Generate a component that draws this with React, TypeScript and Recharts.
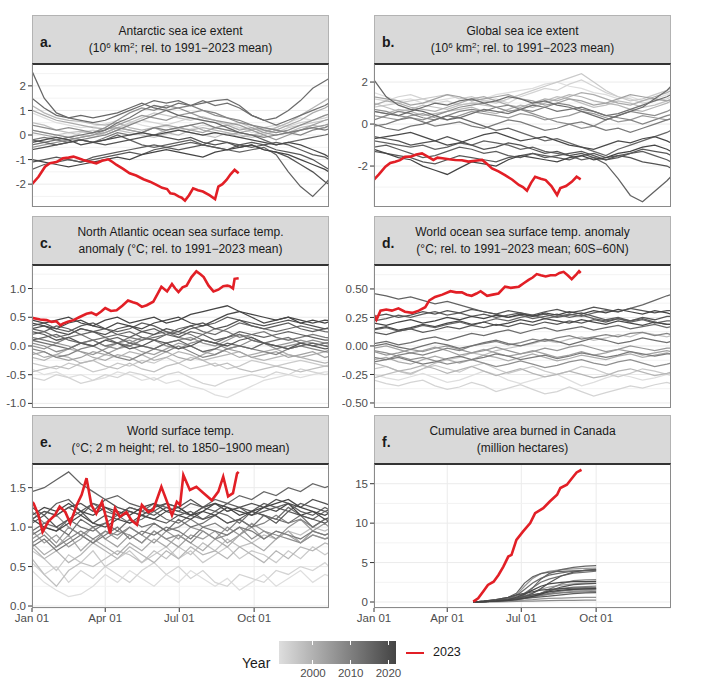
// Climate 2023 small multiples: six facets, grey = previous years, red = 2023.
import { LineChart, Line, XAxis, YAxis, CartesianGrid, ReferenceLine } from "recharts";

// day-of-year sample points for the grey lines
const DAYS = [0, 15, 30, 45, 60, 75, 90, 105, 120, 135, 150, 165, 180, 195, 210, 225, 240, 255, 270, 285, 300, 315, 330, 345, 360, 365];
const FIRE_DAYS = [122, 135, 150, 165, 175, 185, 195, 205, 215, 230, 245, 260, 273];
const YEARS = [1991, 1993, 1995, 1997, 1999, 2001, 2003, 2005, 2007, 2009, 2011, 2013, 2014, 2015, 2016, 2017, 2018, 2019, 2021, 2022];
const FIRE_YEARS = [2003, 2004, 2005, 2006, 2007, 2008, 2009, 2010, 2011, 2012, 2013, 2014, 2015, 2016, 2017, 2018, 2019, 2020, 2021, 2022];
const MONTH_TICKS = [0, 90, 181, 273];
const MONTH_LABELS = ["Jan 01", "Apr 01", "Jul 01", "Oct 01"];

// a. Antarctic sea ice (hundredths of 10^6 km2)
const ANTARCTIC = [
  [90, 70, 50, 40, 30, 35, 45, 60, 55, 40, 30, 35, 20, 25, 40, 30, 20, 30, 10, 20, 30, 50, 70, 60, 80, 85],
  [20, 10, 0, -10, 10, 20, 10, 30, 45, 60, 50, 40, 55, 70, 60, 50, 45, 30, 20, 30, 40, 35, 50, 60, 70, 75],
  [-30, -20, 0, 10, 0, -10, 10, 30, 50, 70, 90, 80, 70, 60, 75, 60, 40, 50, 30, 20, 10, 30, 40, 50, 60, 65],
  [50, 40, 20, 10, 15, 5, 0, 20, 10, 0, -10, 5, 20, 10, 0, -10, 10, 0, -10, 0, 20, 10, 30, 40, 30, 35],
  [120, 90, 70, 60, 55, 45, 40, 50, 30, 20, 30, 10, 0, 20, 30, 20, 10, -10, 0, 10, 30, 50, 80, 110, 140, 150],
  [100, 80, 60, 50, 40, 30, 25, 30, 20, 10, 0, 20, 30, 40, 20, 10, 0, 10, 20, 30, 20, 40, 60, 90, 110, 120],
  [10, 0, -10, -20, -10, 0, 10, 30, 20, 10, 30, 40, 30, 20, 10, 30, 40, 20, 30, 10, 0, 10, 20, 40, 60, 65],
  [-50, -40, -30, -20, -10, 0, 20, 40, 60, 80, 70, 60, 80, 90, 70, 60, 50, 40, 20, 0, -20, 0, 20, 30, 40, 45],
  [40, 30, 20, 30, 20, 10, 30, 60, 90, 110, 100, 120, 110, 90, 100, 80, 70, 50, 40, 20, 10, 20, 40, 60, 80, 85],
  [20, 10, 0, -10, -20, -10, 0, 20, 40, 60, 80, 100, 110, 120, 100, 90, 70, 60, 40, 30, 20, 10, 0, 20, 30, 40],
  [-20, -10, -20, -30, -20, -30, -10, 10, 0, 10, 30, 20, 30, 40, 50, 30, 20, 10, 0, -10, 0, 10, 20, 30, 20, 25],
  [-40, -30, -20, -10, 0, 10, 20, 50, 70, 100, 120, 110, 130, 120, 140, 120, 130, 110, 80, 60, 40, 60, 80, 100, 120, 130],
  [150, 110, 80, 70, 60, 50, 60, 80, 100, 120, 140, 130, 140, 120, 130, 140, 145, 120, 80, 60, 70, 100, 140, 190, 220, 230],
  [260, 150, 90, 70, 80, 70, 80, 90, 110, 130, 110, 100, 80, 70, 60, 50, 30, 10, 0, -20, -40, -30, -20, -10, 0, 5],
  [-20, -30, -40, -30, -20, -30, -20, 0, -20, -40, -50, -40, -30, -20, -40, -50, -60, -70, -60, -50, -80, -150, -210, -250, -200, -180],
  [-140, -120, -110, -100, -110, -90, -80, -70, -60, -50, -40, -50, -40, -30, -40, -20, -30, -40, -50, -40, -30, -40, -60, -80, -90, -100],
  [-110, -100, -90, -100, -110, -100, -90, -80, -70, -80, -60, -50, -60, -50, -40, -50, -60, -40, -30, -40, -60, -70, -80, -100, -130, -140],
  [-60, -50, -40, -30, -20, -30, -40, -30, -20, -10, 0, -10, -20, -10, -30, -40, -30, -50, -40, -60, -70, -90, -120, -150, -190, -200],
  [-30, -20, -10, -20, -40, -30, -20, -10, 0, 10, 0, 10, 20, 10, 0, 10, 0, -10, -20, -30, -40, -30, -40, -60, -80, -90],
  [-100, -110, -120, -130, -120, -110, -100, -90, -100, -80, -70, -60, -70, -80, -90, -70, -60, -50, -40, -60, -70, -80, -100, -120, -140, -150],
];
const ANTARCTIC_2023 = [[0, -2.0], [8, -1.7], [16, -1.29], [22, -1.15], [30, -1.1], [38, -0.95], [45, -0.92], [51, -0.88], [57, -0.95], [63, -1.02], [70, -1.08], [79, -1.15], [86, -1.05], [94, -0.99], [99, -1.1], [104, -1.22], [112, -1.38], [120, -1.56], [128, -1.65], [137, -1.8], [145, -1.9], [153, -2.03], [160, -2.15], [166, -2.2], [170, -2.37], [175, -2.4], [180, -2.5], [184, -2.55], [188, -2.67], [193, -2.45], [198, -2.17], [204, -2.25], [210, -2.3], [218, -2.45], [225, -2.61], [229, -2.1], [234, -2.0], [239, -1.83], [244, -1.6], [249, -1.42], [254, -1.56]];

// b. Global sea ice
const GLOBAL_ICE = [
  [150, 130, 110, 120, 100, 110, 120, 130, 110, 120, 140, 150, 160, 170, 190, 200, 180, 170, 150, 140, 120, 130, 110, 120, 140, 150],
  [120, 110, 130, 140, 120, 100, 110, 90, 100, 110, 120, 100, 130, 150, 170, 160, 190, 210, 180, 150, 130, 120, 100, 110, 120, 130],
  [80, 90, 100, 110, 120, 130, 140, 120, 130, 110, 100, 120, 140, 160, 180, 200, 220, 240, 200, 160, 130, 110, 120, 140, 160, 170],
  [100, 80, 60, 70, 90, 80, 70, 90, 100, 90, 80, 60, 70, 90, 110, 130, 120, 100, 80, 90, 110, 100, 80, 90, 110, 120],
  [60, 50, 70, 60, 40, 50, 60, 70, 80, 60, 50, 70, 90, 80, 100, 120, 140, 130, 110, 100, 90, 70, 60, 80, 100, 110],
  [90, 110, 100, 80, 70, 60, 80, 100, 120, 130, 110, 90, 80, 100, 120, 110, 130, 150, 140, 120, 100, 90, 110, 130, 150, 160],
  [130, 120, 110, 90, 100, 120, 140, 130, 110, 120, 130, 140, 120, 110, 90, 100, 120, 110, 90, 100, 120, 140, 130, 120, 110, 115],
  [40, 30, 20, 40, 50, 30, 20, 40, 60, 50, 40, 30, 50, 40, 20, 30, 40, 60, 50, 30, 10, 20, 40, 30, 20, 25],
  [70, 60, 40, 30, 20, 40, 60, 80, 90, 100, 80, 60, 70, 50, 30, 10, 0, -20, -10, 20, 40, 60, 50, 40, 60, 70],
  [20, 40, 60, 50, 30, 20, 40, 60, 70, 60, 80, 90, 70, 60, 80, 100, 90, 70, 60, 40, 30, 20, 0, 20, 40, 45],
  [-10, 0, 20, 30, 10, -10, 0, 10, -10, -20, 0, 20, 10, -10, -30, -20, 0, 10, -10, -30, -20, -40, -20, 0, 20, 25],
  [0, -20, -30, -10, 0, 20, 40, 30, 50, 70, 60, 50, 70, 90, 80, 60, 70, 80, 60, 40, 50, 70, 90, 110, 130, 140],
  [60, 50, 40, 60, 80, 100, 90, 110, 120, 100, 110, 130, 120, 100, 110, 90, 80, 60, 40, 20, 40, 60, 80, 120, 160, 180],
  [210, 130, 90, 70, 60, 40, 20, 30, 10, -10, -30, -20, -40, -60, -80, -70, -90, -110, -130, -150, -120, -100, -80, -60, -40, -30],
  [-80, -90, -100, -110, -100, -120, -110, -90, -100, -80, -90, -100, -120, -110, -130, -140, -150, -170, -160, -190, -260, -340, -370, -320, -270, -250],
  [-110, -100, -120, -140, -160, -150, -130, -110, -120, -140, -130, -150, -160, -140, -150, -160, -170, -150, -140, -160, -150, -140, -130, -150, -170, -180],
  [-130, -140, -150, -160, -180, -190, -170, -150, -160, -170, -180, -160, -150, -140, -160, -150, -140, -130, -150, -170, -160, -140, -120, -130, -140, -150],
  [-60, -70, -80, -100, -90, -80, -60, -80, -100, -120, -110, -90, -100, -120, -140, -130, -150, -140, -160, -170, -150, -160, -180, -190, -200, -210],
  [-70, -60, -50, -40, -60, -80, -100, -90, -70, -50, -40, -60, -80, -70, -60, -80, -100, -110, -120, -100, -80, -90, -70, -60, -80, -90],
  [-120, -140, -160, -170, -200, -220, -240, -210, -180, -190, -200, -170, -150, -160, -170, -180, -160, -150, -170, -160, -140, -130, -110, -100, -120, -130],
];
const GLOBAL_ICE_2023 = [[0, -2.65], [6, -2.4], [14, -2.03], [20, -1.85], [26, -1.79], [32, -1.72], [38, -1.56], [45, -1.55], [52, -1.45], [59, -1.4], [66, -1.55], [73, -1.71], [78, -1.6], [84, -1.63], [92, -1.68], [100, -1.71], [108, -1.72], [116, -1.79], [124, -1.75], [133, -1.71], [139, -1.9], [145, -2.11], [153, -2.25], [161, -2.43], [170, -2.65], [178, -2.9], [183, -3.0], [188, -3.17], [193, -2.8], [198, -2.51], [205, -2.6], [211, -2.67], [218, -2.95], [225, -3.38], [229, -3.05], [236, -2.95], [243, -2.75], [249, -2.51], [254, -2.63]];

// c. North Atlantic SST anomaly (hundredths of °C)
const NATL_SST = [
  [-40, -50, -45, -55, -50, -60, -55, -45, -50, -60, -55, -65, -60, -70, -75, -85, -90, -80, -70, -60, -55, -50, -55, -50, -45, -45],
  [-55, -60, -50, -55, -65, -60, -50, -55, -45, -50, -60, -50, -45, -55, -65, -70, -60, -55, -50, -55, -45, -50, -40, -45, -50, -48],
  [-30, -35, -40, -30, -35, -45, -40, -30, -35, -25, -30, -20, -30, -40, -35, -30, -40, -35, -25, -30, -35, -30, -25, -30, -35, -33],
  [-45, -40, -35, -40, -30, -25, -35, -40, -30, -40, -45, -35, -30, -20, -25, -35, -30, -40, -45, -40, -35, -40, -45, -40, -35, -36],
  [-20, -25, -15, -20, -30, -25, -15, -20, -10, -15, -25, -20, -10, -15, -25, -20, -15, -10, -20, -25, -20, -15, -20, -25, -30, -28],
  [-10, -20, -15, -5, -10, -20, -25, -15, -20, -30, -20, -10, -20, -25, -15, -5, -10, -20, -15, -10, -5, -15, -20, -15, -10, -12],
  [-15, -10, -20, -25, -20, -10, -15, -5, 0, -10, -15, -5, 5, 0, -10, -15, -5, -10, -20, -15, -10, -20, -15, -10, -20, -18],
  [0, -5, 5, 0, -10, -15, -5, 5, 10, 0, -5, 5, 10, 15, 5, 0, 10, 20, 15, 5, 0, 5, 10, 5, 0, 2],
  [5, 0, -10, -5, 5, 10, 0, -5, 5, 15, 10, 0, -5, 5, 10, 5, -5, 0, 10, 5, -5, 0, 5, 10, 5, 5],
  [-5, -10, -20, -15, -5, 0, -10, -20, -25, -15, -5, -10, 0, -10, -20, -15, -5, 0, -5, -10, -15, -5, 0, -5, -10, -8],
  [15, 10, 5, 15, 20, 10, 0, 5, 15, 10, 20, 25, 15, 10, 20, 30, 25, 15, 20, 25, 15, 10, 15, 20, 15, 14],
  [10, 5, 0, -5, 5, 10, 15, 5, 0, 10, 15, 20, 25, 20, 10, 5, 15, 20, 10, 5, 10, 15, 5, 0, 5, 6],
  [20, 25, 15, 20, 30, 25, 15, 20, 25, 15, 10, 20, 30, 35, 25, 20, 30, 40, 35, 30, 25, 30, 35, 30, 25, 24],
  [10, 15, 20, 10, 5, 0, 10, 15, 5, 0, -5, 5, 10, 0, -10, -5, 5, 0, -5, 5, 0, -5, 0, 5, 0, -2],
  [30, 25, 35, 30, 20, 25, 30, 20, 15, 25, 30, 20, 15, 25, 20, 10, 15, 25, 20, 15, 20, 25, 20, 15, 10, 10],
  [35, 40, 30, 25, 35, 40, 30, 25, 30, 40, 35, 25, 20, 30, 35, 40, 50, 45, 35, 30, 35, 40, 30, 25, 30, 30],
  [25, 20, 10, 15, 5, 0, 10, 5, -5, 0, 10, 5, -5, 0, 10, 5, 0, 10, 15, 5, 0, -5, 5, 0, -5, -4],
  [30, 35, 25, 20, 30, 25, 20, 30, 35, 25, 20, 30, 25, 35, 40, 30, 35, 45, 40, 35, 40, 45, 40, 35, 30, 32],
  [40, 35, 30, 40, 45, 35, 30, 40, 35, 30, 40, 45, 50, 40, 35, 45, 55, 60, 50, 40, 45, 50, 45, 40, 45, 44],
  [45, 40, 45, 50, 40, 35, 45, 50, 40, 45, 50, 40, 45, 55, 60, 65, 70, 60, 55, 50, 45, 50, 40, 45, 40, 42],
];
const NATL_SST_2023 = [[0, 0.49], [10, 0.46], [18, 0.45], [24, 0.42], [30, 0.43], [35, 0.36], [38, 0.39], [44, 0.42], [51, 0.45], [58, 0.5], [67, 0.56], [73, 0.58], [79, 0.54], [85, 0.6], [90, 0.66], [97, 0.61], [104, 0.62], [111, 0.7], [118, 0.79], [124, 0.76], [129, 0.74], [135, 0.68], [141, 0.71], [149, 0.77], [154, 0.9], [159, 1.03], [166, 0.95], [172, 1.08], [176, 1.0], [180, 0.94], [185, 1.02], [190, 1.05], [196, 1.2], [202, 1.3], [207, 1.25], [211, 1.2], [217, 1.05], [223, 0.95], [229, 0.98], [235, 1.04], [240, 1.05], [243, 1.04], [247, 1.0], [249, 1.17], [254, 1.18]];

// d. World ocean SST anomaly 60S-60N (hundredths of °C)
const WORLD_SST = [
  [-25, -28, -30, -27, -24, -28, -32, -30, -26, -22, -25, -30, -33, -30, -27, -25, -30, -35, -32, -28, -25, -27, -30, -28, -25, -26],
  [-30, -33, -35, -32, -30, -35, -38, -36, -32, -35, -40, -37, -34, -38, -42, -40, -36, -40, -44, -41, -38, -35, -37, -34, -32, -33],
  [-20, -18, -22, -25, -20, -17, -20, -23, -18, -15, -20, -24, -21, -18, -22, -25, -22, -18, -20, -24, -27, -24, -20, -22, -25, -24],
  [-28, -25, -22, -24, -20, -15, -12, -10, -6, -8, -4, -2, 0, 2, 5, 3, 6, 8, 5, 7, 10, 8, 12, 10, 8, 9],
  [-15, -18, -22, -20, -17, -20, -24, -21, -18, -22, -26, -23, -20, -24, -27, -25, -22, -25, -28, -26, -22, -20, -23, -26, -24, -23],
  [-12, -10, -14, -16, -12, -9, -12, -15, -12, -8, -10, -13, -10, -7, -10, -13, -11, -8, -10, -12, -9, -7, -10, -8, -6, -7],
  [-2, 0, -3, -6, -4, -1, -4, -8, -6, -3, -6, -9, -7, -4, -7, -10, -8, -5, -8, -6, -3, -5, -8, -6, -4, -5],
  [-5, -8, -6, -3, -5, -2, 0, -3, -6, -4, -1, -4, -7, -5, -2, -4, -1, 1, -2, -5, -3, 0, -2, -4, -2, -2],
  [-4, -6, -9, -12, -10, -13, -16, -14, -12, -15, -18, -16, -13, -16, -19, -17, -14, -12, -15, -17, -14, -12, -15, -18, -16, -15],
  [-10, -12, -8, -6, -8, -5, -2, -4, 0, 2, 4, 1, 3, 6, 4, 7, 9, 6, 8, 10, 8, 11, 12, 9, 11, 10],
  [-14, -12, -10, -13, -16, -14, -11, -9, -12, -10, -7, -9, -12, -10, -8, -11, -9, -6, -8, -10, -8, -5, -7, -9, -7, -7],
  [0, 2, -1, -3, 0, 3, 1, -2, 0, 3, 5, 2, 0, 3, 6, 4, 1, 4, 7, 5, 2, 4, 7, 5, 3, 4],
  [2, 4, 1, 3, 6, 8, 5, 8, 11, 9, 12, 14, 11, 14, 16, 13, 15, 17, 14, 16, 18, 15, 17, 19, 16, 17],
  [14, 16, 13, 15, 18, 16, 19, 21, 18, 21, 24, 22, 25, 27, 24, 26, 28, 26, 29, 31, 30, 33, 36, 40, 44, 45],
  [46, 44, 41, 43, 40, 37, 39, 36, 33, 30, 28, 25, 27, 24, 26, 28, 25, 27, 24, 22, 24, 21, 23, 20, 22, 22],
  [22, 24, 27, 25, 28, 30, 27, 29, 26, 28, 25, 27, 29, 26, 28, 25, 27, 29, 26, 23, 25, 22, 24, 21, 19, 19],
  [12, 10, 13, 15, 12, 14, 17, 15, 18, 16, 19, 17, 20, 18, 21, 19, 22, 20, 23, 21, 24, 22, 25, 23, 26, 26],
  [26, 28, 25, 27, 30, 28, 31, 29, 32, 30, 28, 31, 29, 27, 30, 32, 29, 31, 34, 32, 30, 33, 31, 29, 31, 31],
  [15, 17, 14, 16, 19, 17, 20, 22, 19, 21, 18, 20, 23, 21, 24, 22, 20, 23, 21, 19, 22, 20, 18, 21, 19, 19],
  [20, 18, 21, 23, 20, 22, 25, 23, 26, 24, 27, 25, 28, 26, 29, 27, 30, 28, 31, 29, 32, 30, 28, 31, 29, 28],
];
const WORLD_SST_2023 = [[0, 0.27], [3, 0.23], [8, 0.31], [15, 0.32], [22, 0.31], [30, 0.33], [38, 0.3], [47, 0.29], [55, 0.31], [63, 0.34], [68, 0.4], [75, 0.43], [84, 0.45], [94, 0.48], [101, 0.47], [108, 0.47], [114, 0.45], [120, 0.44], [126, 0.46], [131, 0.48], [139, 0.44], [146, 0.45], [153, 0.46], [161, 0.52], [168, 0.51], [178, 0.52], [184, 0.55], [190, 0.58], [195, 0.6], [200, 0.63], [205, 0.62], [211, 0.61], [217, 0.62], [223, 0.62], [228, 0.64], [233, 0.65], [238, 0.62], [243, 0.585], [249, 0.63], [252, 0.655], [254, 0.64]];

// e. World surface air temperature vs 1850-1900 (hundredths of °C)
const SURFACE_T = [
  [45, 30, 20, 12, 15, 25, 40, 30, 45, 35, 25, 40, 30, 45, 35, 25, 35, 20, 30, 40, 25, 35, 45, 30, 40, 38],
  [55, 40, 50, 30, 45, 35, 50, 40, 30, 45, 55, 40, 50, 35, 45, 30, 25, 40, 35, 30, 45, 40, 50, 45, 55, 50],
  [70, 60, 45, 65, 55, 70, 50, 60, 70, 55, 65, 75, 60, 70, 55, 65, 75, 60, 70, 65, 55, 70, 60, 75, 65, 68],
  [60, 40, 25, 45, 55, 50, 60, 70, 65, 55, 70, 60, 75, 65, 80, 70, 85, 75, 80, 90, 85, 95, 90, 100, 95, 98],
  [75, 60, 70, 55, 65, 80, 70, 60, 75, 65, 55, 70, 60, 75, 65, 70, 60, 75, 65, 55, 70, 60, 75, 70, 80, 78],
  [80, 65, 75, 90, 70, 85, 75, 65, 80, 70, 85, 75, 90, 80, 70, 85, 75, 90, 80, 70, 85, 95, 80, 90, 85, 88],
  [95, 80, 90, 75, 85, 100, 85, 75, 90, 80, 95, 85, 75, 90, 85, 95, 80, 90, 100, 85, 95, 90, 80, 95, 90, 92],
  [85, 95, 80, 100, 90, 80, 95, 85, 100, 90, 80, 95, 85, 100, 95, 85, 100, 90, 105, 95, 85, 100, 110, 95, 105, 100],
  [120, 105, 115, 100, 90, 100, 85, 95, 90, 80, 95, 85, 90, 80, 95, 85, 90, 100, 85, 95, 90, 85, 80, 90, 85, 86],
  [80, 90, 75, 85, 95, 85, 95, 90, 100, 90, 105, 95, 100, 110, 100, 105, 95, 110, 100, 105, 115, 105, 110, 100, 110, 108],
  [75, 85, 70, 80, 90, 80, 90, 100, 85, 95, 90, 100, 95, 85, 100, 95, 90, 100, 95, 85, 95, 90, 85, 95, 90, 92],
  [90, 100, 95, 110, 100, 95, 105, 95, 110, 100, 105, 95, 110, 100, 105, 115, 105, 110, 100, 115, 110, 105, 115, 100, 110, 108],
  [95, 105, 100, 90, 110, 100, 105, 115, 105, 110, 120, 110, 105, 115, 110, 120, 115, 105, 120, 115, 110, 125, 115, 110, 120, 118],
  [110, 120, 115, 125, 115, 130, 120, 115, 125, 120, 130, 125, 120, 130, 125, 135, 130, 140, 135, 145, 140, 150, 145, 155, 150, 152],
  [145, 150, 160, 170, 155, 145, 135, 140, 130, 125, 120, 130, 125, 115, 125, 130, 120, 125, 115, 120, 125, 130, 120, 115, 125, 122],
  [125, 115, 130, 135, 120, 130, 125, 115, 125, 120, 115, 125, 120, 115, 125, 120, 130, 125, 120, 130, 125, 120, 130, 125, 120, 122],
  [105, 115, 100, 110, 120, 105, 115, 110, 120, 115, 110, 105, 115, 120, 110, 115, 105, 110, 120, 115, 105, 120, 115, 110, 105, 108],
  [110, 120, 115, 125, 130, 120, 135, 125, 120, 115, 125, 130, 125, 135, 125, 130, 120, 125, 130, 125, 135, 130, 125, 135, 130, 128],
  [110, 100, 95, 105, 115, 105, 100, 110, 105, 115, 110, 120, 115, 110, 120, 115, 125, 120, 115, 125, 120, 130, 115, 120, 110, 112],
  [115, 125, 120, 130, 120, 115, 125, 120, 115, 125, 130, 120, 125, 115, 120, 130, 125, 115, 120, 125, 130, 135, 125, 120, 115, 118],
];
const SURFACE_T_2023 = [[0, 1.32], [2, 1.3], [8, 1.15], [13, 0.94], [20, 1.07], [28, 1.15], [34, 1.26], [41, 1.19], [47, 1.05], [55, 1.28], [61, 1.41], [67, 1.62], [73, 1.28], [79, 1.17], [86, 1.32], [96, 0.92], [102, 1.24], [108, 1.13], [116, 1.19], [122, 1.09], [129, 1.03], [135, 1.28], [143, 1.19], [149, 1.22], [159, 1.51], [166, 1.32], [172, 1.15], [178, 1.32], [182, 1.28], [186, 1.66], [194, 1.47], [202, 1.51], [211, 1.43], [221, 1.34], [229, 1.45], [235, 1.64], [241, 1.39], [247, 1.43], [252, 1.68], [254, 1.7]];

// f. Cumulative area burned in Canada (hundredths of Mha)
const FIRE = [
  [0, 5, 10, 20, 30, 45, 60, 80, 100, 120, 135, 145, 150],
  [0, 5, 15, 30, 50, 80, 120, 160, 190, 215, 230, 238, 240],
  [0, 10, 25, 50, 90, 200, 300, 360, 390, 410, 420, 425, 430],
  [0, 5, 10, 15, 20, 25, 30, 40, 45, 50, 55, 58, 60],
  [0, 5, 10, 20, 35, 60, 90, 110, 125, 140, 150, 155, 160],
  [0, 0, 2, 5, 8, 10, 12, 15, 18, 20, 22, 24, 25],
  [0, 5, 10, 20, 30, 45, 70, 110, 160, 230, 270, 280, 285],
  [0, 5, 15, 25, 40, 60, 80, 110, 140, 170, 190, 195, 200],
  [0, 5, 10, 25, 40, 55, 70, 85, 100, 115, 125, 130, 135],
  [0, 5, 10, 20, 35, 50, 70, 90, 110, 140, 160, 168, 172],
  [0, 10, 20, 40, 70, 110, 180, 250, 290, 330, 365, 380, 390],
  [0, 10, 25, 45, 80, 160, 240, 300, 340, 370, 390, 400, 405],
  [0, 5, 15, 30, 50, 90, 180, 290, 360, 410, 440, 455, 460],
  [0, 10, 30, 60, 110, 240, 320, 360, 380, 390, 395, 398, 400],
  [0, 5, 15, 25, 35, 45, 55, 65, 75, 90, 105, 115, 120],
  [0, 5, 10, 20, 40, 70, 110, 170, 240, 330, 380, 405, 415],
  [0, 5, 15, 30, 50, 70, 90, 110, 140, 190, 220, 230, 235],
  [0, 10, 30, 60, 90, 110, 130, 150, 160, 170, 175, 178, 180],
  [0, 5, 15, 30, 60, 100, 150, 200, 230, 250, 258, 260, 262],
  [0, 5, 10, 20, 30, 50, 70, 100, 130, 150, 160, 165, 170],
];
const FIRE_2023 = [[122, 0.04], [128, 0.47], [134, 1.31], [140, 2.16], [147, 2.58], [153, 3.43], [159, 4.49], [165, 5.76], [169, 5.97], [175, 7.88], [183, 8.93], [192, 10.0], [198, 11.27], [208, 11.9], [216, 12.74], [225, 13.6], [229, 14.45], [237, 14.87], [245, 15.92], [249, 16.43], [255, 16.77]];

const RED = "#e21f26";
const COL_X = [32, 374];
const PLOT_W = 297;
const ROWS = [
  { strip: 15, plot: 64, h: 143 },
  { strip: 216, plot: 265, h: 143 },
  { strip: 415, plot: 464, h: 144 },
];
const STRIP_H = 49;
const YW = 32;
const XH = 22;
const FONT = '"Liberation Sans", Arial, Helvetica, sans-serif';

const greyFor = (year: number) => {
  const t = Math.min(1, Math.max(0, (year - 1991) / 31));
  const v = Math.round(222 - t * (222 - 68));
  return `rgb(${v},${v},${v})`;
};

function buildRows(days: number[], lines: number[][], red: number[][]) {
  const m = new Map<number, any>();
  const row = (d: number) => {
    if (!m.has(d)) m.set(d, { x: d });
    return m.get(d);
  };
  lines.forEach((vals, i) => vals.forEach((v, j) => { row(days[j])["g" + i] = v / 100; }));
  red.forEach(([d, v]) => { row(d).r = v; });
  return [...m.values()].sort((a, b) => a.x - b.x);
}

const sup = (s: string) => <span style={{ fontSize: 8, position: "relative", top: -4 }}>{s}</span>;
const iceUnits = <>(10{sup("6")} km{sup("2")}; rel. to 1991−2023 mean)</>;

const PANELS = [
  { letter: "a.", col: 0, row: 0, t1: "Antarctic sea ice extent", t2: iceUnits, days: DAYS, lines: ANTARCTIC, years: YEARS, red: ANTARCTIC_2023,
    domain: [-2.93, 2.89], ticks: [-2, -1, 0, 1, 2], minor: [-2.5, -1.5, -0.5, 0.5, 1.5, 2.5], fmt: (v: number) => String(v) },
  { letter: "b.", col: 1, row: 0, t1: "Global sea ice extent", t2: iceUnits, days: DAYS, lines: GLOBAL_ICE, years: YEARS, red: GLOBAL_ICE_2023,
    domain: [-3.95, 2.86], ticks: [-2, 0, 2], minor: [-3, -1, 1], fmt: (v: number) => String(v) },
  { letter: "c.", col: 0, row: 1, t1: "North Atlantic ocean sea surface temp.", t2: "anomaly (°C; rel. to 1991−2023 mean)", days: DAYS, lines: NATL_SST, years: YEARS, red: NATL_SST_2023,
    domain: [-1.08, 1.41], ticks: [-1, -0.5, 0, 0.5, 1], minor: [-0.75, -0.25, 0.25, 0.75, 1.25], fmt: (v: number) => v.toFixed(1) },
  { letter: "d.", col: 1, row: 1, t1: "World ocean sea surface temp. anomaly", t2: "(°C; rel. to 1991−2023 mean; 60S−60N)", days: DAYS, lines: WORLD_SST, years: YEARS, red: WORLD_SST_2023,
    domain: [-0.544, 0.71], ticks: [-0.5, -0.25, 0, 0.25, 0.5], minor: [-0.375, -0.125, 0.125, 0.375, 0.625], fmt: (v: number) => v.toFixed(2) },
  { letter: "e.", col: 0, row: 2, t1: "World surface temp.", t2: "(°C; 2 m height; rel. to 1850−1900 mean)", days: DAYS, lines: SURFACE_T, years: YEARS, red: SURFACE_T_2023,
    domain: [-0.025, 1.8], ticks: [0, 0.5, 1, 1.5], minor: [0.25, 0.75, 1.25, 1.75], fmt: (v: number) => v.toFixed(1) },
  { letter: "f.", col: 1, row: 2, t1: "Cumulative area burned in Canada", t2: "(million hectares)", days: FIRE_DAYS, lines: FIRE, years: FIRE_YEARS, red: FIRE_2023,
    domain: [-0.76, 17.5], ticks: [0, 5, 10, 15], minor: [2.5, 7.5, 12.5], fmt: (v: number) => String(v) },
];

function Panel({ p }: { p: any }) {
  const left = COL_X[p.col];
  const r = ROWS[p.row];
  const bottom = p.row === 2;
  const data = buildRows(p.days, p.lines, p.red);
  return (
    <>
      <div style={{ position: "absolute", left, top: r.strip, width: PLOT_W, height: STRIP_H, background: "#d9d9d9",
        border: "1px solid #b3b3b3", boxSizing: "border-box", color: "#1a1a1a" }}>
        <div style={{ position: "absolute", left: 7, top: 18, fontSize: 14, fontWeight: 700, lineHeight: "16px" }}>{p.letter}</div>
        <div style={{ position: "absolute", left: 0, right: 0, top: 7, textAlign: "center", fontSize: 12, lineHeight: "17px", whiteSpace: "nowrap" }}>
          {p.t1}<br />{p.t2}
        </div>
      </div>
      <div style={{ position: "absolute", left: left - YW, top: r.plot }}>
        <LineChart width={YW + PLOT_W} height={r.h + (bottom ? XH : 0)} data={data} margin={{ top: 0, right: 0, bottom: 0, left: 0 }}>
          <CartesianGrid stroke="#ebebeb" strokeWidth={1} />
          <XAxis dataKey="x" type="number" domain={[0, 365]} allowDataOverflow ticks={MONTH_TICKS} height={bottom ? XH : 0}
            interval={0} axisLine={false} tick={bottom ? { fill: "#4d4d4d", fontSize: 11.5, fontFamily: FONT } : false}
            tickLine={bottom ? { stroke: "#333" } : false} tickSize={4} tickMargin={2}
            tickFormatter={(v: number) => MONTH_LABELS[MONTH_TICKS.indexOf(v)] ?? ""} />
          <YAxis type="number" domain={p.domain} allowDataOverflow ticks={p.ticks} interval={0} width={YW} axisLine={false}
            tick={{ fill: "#4d4d4d", fontSize: 11.5, fontFamily: FONT }} tickLine={{ stroke: "#333" }} tickSize={4} tickMargin={2}
            tickFormatter={p.fmt} />
          {p.minor.map((v: number) => (
            <ReferenceLine key={v} y={v} stroke="#f3f3f3" strokeWidth={1} />
          ))}
          {p.lines.map((_: number[], i: number) => (
            <Line key={i} dataKey={"g" + i} type="linear" stroke={greyFor(p.years[i])} strokeWidth={1.25}
              dot={false} activeDot={false} connectNulls isAnimationActive={false} />
          ))}
          <Line dataKey="r" type="linear" stroke={RED} strokeWidth={2.6} dot={false} activeDot={false} connectNulls isAnimationActive={false} />
        </LineChart>
      </div>
      <div style={{ position: "absolute", left, top: r.plot - 1, width: PLOT_W, height: r.h + 1, boxSizing: "border-box",
        borderLeft: "1px solid #8a8a8a", borderRight: "1px solid #8a8a8a", borderBottom: "1px solid #8a8a8a",
        borderTop: "2px solid #333", pointerEvents: "none" }} />
    </>
  );
}

const LEGEND_YEARS = [2000, 2010, 2020];

export default function App() {
  return (
    <div style={{ position: "absolute", left: 0, top: 0, width: 707, height: 681, background: "#fff", fontFamily: FONT, overflow: "hidden" }}>
      {PANELS.map((p) => <Panel key={p.letter} p={p} />)}
      {/* legend */}
      <div style={{ position: "absolute", left: 242, top: 655, fontSize: 14, lineHeight: "16px", color: "#1a1a1a" }}>Year</div>
      <div style={{ position: "absolute", left: 279, top: 641, width: 117, height: 23,
        background: "linear-gradient(to right, rgb(222,222,222), rgb(68,68,68))" }}>
        {LEGEND_YEARS.map((y) => {
          const x = ((y - 1991) / 31) * 117;
          return (
            <div key={y}>
              <div style={{ position: "absolute", left: x - 0.5, top: 0, width: 1, height: 4, background: "#fff" }} />
              <div style={{ position: "absolute", left: x - 0.5, bottom: 0, width: 1, height: 4, background: "#fff" }} />
            </div>
          );
        })}
      </div>
      {LEGEND_YEARS.map((y) => (
        <div key={y} style={{ position: "absolute", left: 279 + ((y - 1991) / 31) * 117 - 20, width: 40, top: 667,
          textAlign: "center", fontSize: 11.5, lineHeight: "13px", color: "#4d4d4d" }}>{y}</div>
      ))}
      <div style={{ position: "absolute", left: 406, top: 651.5, width: 18, height: 2.6, background: RED }} />
      <div style={{ position: "absolute", left: 433, top: 645, fontSize: 12.5, lineHeight: "15px", color: "#1a1a1a" }}>2023</div>
    </div>
  );
}
